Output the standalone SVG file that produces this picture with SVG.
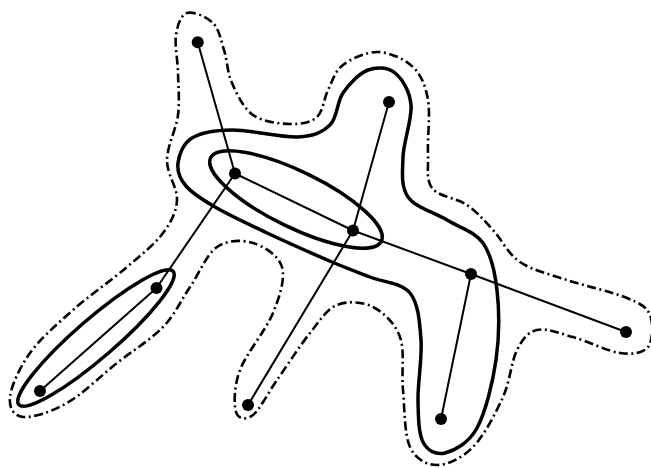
<svg xmlns="http://www.w3.org/2000/svg" width="651" height="468" viewBox="0 0 651 468">
<style>
.edge{stroke:#000;stroke-width:2;fill:none;stroke-linecap:round}
.thick{stroke:#000;stroke-width:3.5;fill:none}
.dd{stroke:#000;stroke-width:2.6;fill:none;stroke-dasharray:9 3.5 2 3.5}
.node{fill:#000}
</style>
<rect width="651" height="468" fill="#fff"/>
<g id="hyperedges">
<path id="outer" class="dd" d="M187,13 C193.2,11 206.8,16.8 213,23 S220.8,40 224,50 S227.2,72.2 232,83 S243.3,108.2 253,115 S279.3,123.7 290,124 S310.7,122.7 317,117 S323.7,98.7 328,90 S334.7,71.3 343,65 S366.3,51.7 378,52 S404.7,59 413,67 S425.5,85.7 428,100 S427.3,138.3 428,153 S425.5,179.3 432,188 S456.8,198 467,205 S484.2,220.5 493,230 S507.7,253.7 520,262 S549.2,274 567,280 S613.2,292.2 627,298 S646.5,306.8 650,315 S653,340.7 648,347 S632.5,354.7 620,353 S586.8,340.8 573,337 S546.3,327.8 537,330 S522.7,338.8 517,350 S510.3,380.8 503,397 S484,435.7 473,447 S447.5,465 437,465 S415.7,459.5 410,447 S404.7,408.3 403,390 S405,350.8 400,337 S383.5,312.3 373,307 S347.5,300.7 337,305 S320,320.5 310,333 S286.5,366.3 277,380 S259.8,409.7 253,415 S238.2,419.5 236,412 S233.8,386.5 240,370 S266,330.2 273,313 S285.3,278.7 282,267 S263.8,246.3 253,243 S227.5,239.7 217,247 S199,273.7 190,287 S175.2,314.3 163,327 S133,350.3 117,363 S82.7,394 67,403 S32.5,418 23,417 S8.8,407.7 10,397 S19.5,367.5 30,353 S56.8,324.3 73,310 S112,279.8 127,267 S154.7,244.2 163,233 S176.3,212.2 177,200 S166.8,174.2 167,160 S176.2,129.5 178,115 S178.3,86.3 178,73 S174.5,45 176,35 S180.8,15 187,13 Z"/>
<path id="big" class="thick" d="M178,163 C179,155 183,143.5 192,138 S214.3,130.2 232,130 S281.7,137.8 298,137 S322.5,132.3 330,125 S336.7,102.2 343,93 S359.3,73.3 368,70 S387.8,67.2 395,73 S409.7,91 411,105 S403.5,141.7 403,157 S400.7,186.5 408,197 S434.5,212.3 447,220 S474.7,231.3 483,243 S494.8,270.5 497,290 S499.3,337 496,360 S485.5,412.5 477,428 S454,450.7 445,453 S427.5,450.8 423,442 S418.3,417 418,400 S422.3,357.8 421,340 S418.5,303.5 410,293 S383,282.2 370,277 S349.5,269.5 332,262 S284.5,241.2 265,232 S228.2,214.7 215,207 S192.2,193.3 186,186 S177,171 178,163 Z"/>
<ellipse id="bd" class="thick" cx="296" cy="199.5" rx="95" ry="28" transform="rotate(26 296 199.5)"/>
<ellipse id="gh" class="thick" cx="96" cy="338" rx="102" ry="19.5" transform="rotate(-40.8 96 338)"/>
</g>
<g id="connectors">
<line class="edge" x1="197.7" y1="42.3" x2="235" y2="173.5"/>
<line class="edge" x1="235" y1="173.5" x2="353" y2="230.5"/>
<line class="edge" x1="353" y1="230.5" x2="471" y2="274"/>
<line class="edge" x1="471" y1="274" x2="626" y2="332"/>
<line class="edge" x1="389" y1="102" x2="353" y2="230.5"/>
<line class="edge" x1="353" y1="230.5" x2="248" y2="405"/>
<line class="edge" x1="235" y1="173.5" x2="156.5" y2="288"/>
<line class="edge" x1="156.5" y1="288" x2="40" y2="391"/>
<line class="edge" x1="471" y1="274" x2="441" y2="419"/>
</g>
<g id="nA"><circle class="node" cx="197.7" cy="42.3" r="6"/></g>
<g id="nB"><circle class="node" cx="235" cy="173.5" r="6"/></g>
<g id="nC"><circle class="node" cx="389" cy="102" r="6"/></g>
<g id="nD"><circle class="node" cx="353" cy="230.5" r="6"/></g>
<g id="nE"><circle class="node" cx="471" cy="274" r="6"/></g>
<g id="nF"><circle class="node" cx="626" cy="332" r="6"/></g>
<g id="nG"><circle class="node" cx="156.5" cy="288" r="6"/></g>
<g id="nH"><circle class="node" cx="40" cy="391" r="6"/></g>
<g id="nI"><circle class="node" cx="248" cy="405" r="6"/></g>
<g id="nJ"><circle class="node" cx="441" cy="419" r="6"/></g>
</svg>
